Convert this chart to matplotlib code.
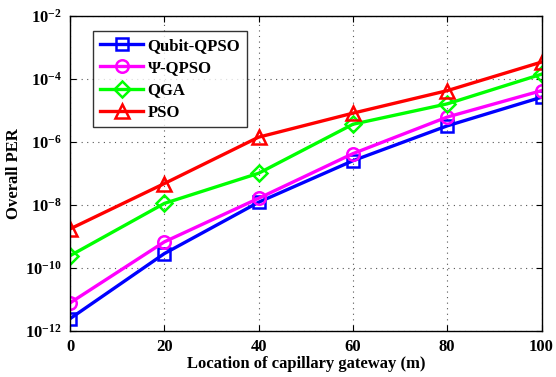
import matplotlib
matplotlib.use("Agg")
import math
import matplotlib.pyplot as plt
from matplotlib.ticker import FixedLocator, FuncFormatter, NullLocator

plt.rcParams['font.family'] = ['Liberation Serif', 'DejaVu Serif']
plt.rcParams['font.weight'] = 'bold'
plt.rcParams['mathtext.fontset'] = 'custom'
plt.rcParams['mathtext.rm'] = 'Liberation Serif:bold'
plt.rcParams['mathtext.bf'] = 'Liberation Serif:bold'
plt.rcParams['mathtext.it'] = 'Liberation Serif:bold:italic'
plt.rcParams['mathtext.default'] = 'bf'

x = [0, 20, 40, 60, 80, 100]
qubit_qpso = [2.4e-12, 2.8e-10, 1.2e-8, 2.5e-7, 3.2e-6, 2.6e-5]
psi_qpso = [7.6e-12, 6.6e-10, 1.6e-8, 4.2e-7, 6.1e-6, 4.2e-5]
qga = [2.4e-10, 1.1e-8, 1.0e-7, 3.6e-6, 1.6e-5, 1.4e-4]
pso = [1.7e-9, 4.7e-8, 1.4e-6, 8.1e-6, 4.2e-5, 3.4e-4]

labels = ['Qubit-QPSO', 'Ψ-QPSO', 'QGA', 'PSO']
series = [qubit_qpso, psi_qpso, qga, pso]
colors = ['#0000ff', '#ff00ff', '#00ff00', '#ff0000']
markers = ['s', 'o', 'D', '^']
msizes = [8, 9, 8, 10]

fig = plt.figure(figsize=(5.56, 3.77), dpi=100)
ax = fig.add_axes([0.126, 0.123, 0.848, 0.835])

for y, lab, c, m, ms in zip(series, labels, colors, markers, msizes):
    ax.plot(x, y, color=c, marker=m, markersize=ms, markerfacecolor='none',
            markeredgecolor=c, markeredgewidth=1.8, linewidth=2.4, label=lab)

ax.set_yscale('log')
ax.set_xlim(0, 100)
ax.set_ylim(1e-12, 1e-2)
ax.xaxis.set_major_locator(FixedLocator([0, 20, 40, 60, 80, 100]))
ax.yaxis.set_major_locator(FixedLocator([1e-12, 1e-10, 1e-8, 1e-6, 1e-4, 1e-2]))
ax.yaxis.set_minor_locator(NullLocator())
ax.yaxis.set_major_formatter(FuncFormatter(lambda v, p: r'$10^{%d}$' % round(math.log10(v))))

ax.grid(True, linestyle=(0, (1, 4)), color='#555555', linewidth=0.8)
ax.tick_params(direction='in', which='both', top=True, right=True, labelsize=12, length=4, pad=6)
for lbl in ax.get_xticklabels() + ax.get_yticklabels():
    lbl.set_fontweight('bold')
for s in ax.spines.values():
    s.set_linewidth(1.0)

ax.set_xlabel('Location of capillary gateway (m)', fontsize=12, fontweight='bold', labelpad=1)
ax.set_ylabel('Overall PER', fontsize=12, fontweight='bold', labelpad=2)

leg = ax.legend(loc='upper left', bbox_to_anchor=(0.032, 0.978), fontsize=12,
                frameon=True, fancybox=False, edgecolor='black', handlelength=2.6,
                borderpad=0.4, labelspacing=0.38, handletextpad=0.25)
leg.get_frame().set_linewidth(1.0)
for t in leg.get_texts():
    t.set_fontweight('bold')

fig.savefig('out.png', dpi=100)
